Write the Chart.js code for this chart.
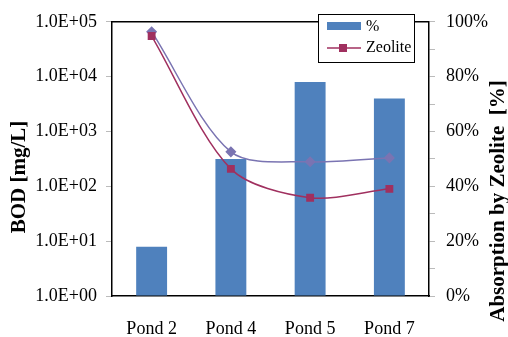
<!DOCTYPE html>
<html>
<head>
<meta charset="utf-8">
<script src="https://cdn.jsdelivr.net/npm/chart.js@4/dist/chart.umd.min.js"></script>
<style>
  html, body { margin: 0; padding: 0; background: #fff; }
  #wrap { width: 508px; height: 337px; position: relative; }
</style>
</head>
<body>
<div id="wrap"><canvas id="chart" width="508" height="337"></canvas></div>
<script>
(function() {
  'use strict';

  // ── Data ──
  var categories = ['Pond 2', 'Pond 4', 'Pond 5', 'Pond 7'];
  var absorptionPct = [18, 50, 78, 72];          // bars, right axis
  var bodBefore = [66000, 425, 280, 330];        // diamonds, left log axis
  var bodZeolite = [55000, 208, 62, 90];         // squares, left log axis
  var bodTicks = [1, 10, 100, 1000, 10000, 100000];
  var bodTickLabels = ['1.0E+00', '1.0E+01', '1.0E+02', '1.0E+03', '1.0E+04', '1.0E+05'];
  var pctTicks = [0, 20, 40, 60, 80, 100];
  var pctTickLabels = ['0%', '20%', '40%', '60%', '80%', '100%'];

  var SERIF = "'Liberation Serif', 'Times New Roman', serif";
  var BAR_BLUE = '#4F81BD';
  var ZEO = '#A0305F';
  var BEFORE = '#7A74B2';

  // ── Titles + legend drawn by hand ──
  var decorPlugin = {
    id: 'decor',
    afterDraw: function(chart) {
      var ctx = chart.ctx;
      ctx.save();
      ctx.fillStyle = '#000';
      ctx.font = 'bold 21px ' + SERIF;
      ctx.textAlign = 'center';
      ctx.textBaseline = 'middle';

      ctx.save();
      ctx.translate(20, 177);
      ctx.rotate(-Math.PI / 2);
      ctx.fillText('BOD [mg/L]', 0, 0);
      ctx.restore();

      ctx.save();
      ctx.translate(499, 201);
      ctx.rotate(-Math.PI / 2);
      ctx.fillText('Absorption by Zeolite  [%]', 0, 0);
      ctx.restore();

      // legend box
      var bx = 318, by = 14, bw = 96, bh = 48;
      ctx.fillStyle = '#fff';
      ctx.fillRect(bx, by, bw, bh);
      ctx.strokeStyle = '#000';
      ctx.lineWidth = 1;
      ctx.strokeRect(bx + 0.5, by + 0.5, bw, bh);

      ctx.fillStyle = BAR_BLUE;
      ctx.fillRect(327, 22, 34, 8);

      ctx.strokeStyle = ZEO;
      ctx.lineWidth = 1.5;
      ctx.beginPath();
      ctx.moveTo(327, 48);
      ctx.lineTo(361, 48);
      ctx.stroke();
      ctx.fillStyle = ZEO;
      ctx.fillRect(339, 44, 8, 8);

      ctx.fillStyle = '#000';
      ctx.font = '16px ' + SERIF;
      ctx.textAlign = 'left';
      ctx.fillText(chart.data.datasets[0].label, 366, 27);
      ctx.fillText(chart.data.datasets[2].label, 366, 48);
      ctx.restore();
    }
  };

  new Chart(document.getElementById('chart'), {
    data: {
      labels: categories,
      datasets: [
        {
          type: 'bar', label: '%', data: absorptionPct, yAxisID: 'y2',
          backgroundColor: BAR_BLUE, borderWidth: 0,
          barPercentage: 0.39, categoryPercentage: 1, order: 3
        },
        {
          type: 'line', label: 'Before', data: bodBefore, yAxisID: 'y',
          borderColor: BEFORE, borderWidth: 1.5, tension: 0.3,
          pointStyle: 'rectRot', pointRadius: 4.5, pointBackgroundColor: BEFORE,
          pointBorderColor: BEFORE, order: 2
        },
        {
          type: 'line', label: 'Zeolite', data: bodZeolite, yAxisID: 'y',
          borderColor: ZEO, borderWidth: 1.5, tension: 0.3,
          pointStyle: 'rect', pointRadius: 4.5, pointBackgroundColor: ZEO,
          pointBorderColor: ZEO, order: 1
        }
      ]
    },
    options: {
      responsive: false,
      animation: false,
      layout: { padding: { top: 21, left: 0, right: 0, bottom: 0 } },
      plugins: { legend: { display: false }, tooltip: { enabled: false } },
      scales: {
        x: {
          offset: true,
          grid: { display: false },
          border: { display: true, color: '#000', width: 1.5 },
          ticks: { color: '#000', font: { family: SERIF, size: 18 }, padding: 14 },
          afterFit: function(s) { s.height = 41; }
        },
        y: {
          type: 'logarithmic', position: 'left', min: 1, max: 100000,
          grid: { drawOnChartArea: false, tickLength: 6, color: '#bbb' },
          border: { display: true, color: '#000', width: 1.5 },
          afterBuildTicks: function(s) {
            s.ticks = bodTicks.map(function(v) { return { value: v }; });
          },
          ticks: {
            color: '#000', font: { family: SERIF, size: 18 }, padding: 9,
            callback: function(v) {
              var i = bodTicks.indexOf(v);
              return i > -1 ? bodTickLabels[i] : '';
            }
          },
          afterFit: function(s) { s.width = 112; }
        },
        y2: {
          type: 'linear', position: 'right', min: 0, max: 100,
          grid: { drawOnChartArea: false, tickLength: 6, color: '#bbb' },
          border: { display: true, color: '#000', width: 1.5 },
          ticks: {
            stepSize: 10, color: '#000', font: { family: SERIF, size: 18 }, padding: 11,
            callback: function(v) {
              var i = pctTicks.indexOf(v);
              return i > -1 ? pctTickLabels[i] : '';
            }
          },
          afterFit: function(s) { s.width = 79; }
        }
      }
    },
    plugins: [decorPlugin, {
      id: 'topBorder',
      afterDatasetsDraw: function(chart) {
        var a = chart.chartArea, ctx = chart.ctx;
        ctx.save();
        ctx.strokeStyle = '#000';
        ctx.lineWidth = 1.5;
        ctx.beginPath();
        ctx.moveTo(a.left, a.top);
        ctx.lineTo(a.right, a.top);
        ctx.stroke();
        ctx.restore();
      }
    }]
  });
})();
</script>
</body>
</html>
